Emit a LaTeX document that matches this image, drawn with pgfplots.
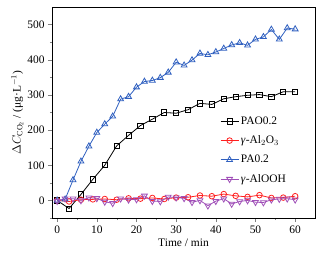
\documentclass[border=0pt]{standalone}
\usepackage{pgfplots}
\pgfplotsset{compat=1.18}
\usepackage{fontspec}
\setmainfont{Liberation Serif}
\definecolor{cblue}{HTML}{3060C0}
\definecolor{cred}{HTML}{FF2020}
\definecolor{cpurp}{HTML}{A050B8}
\begin{document}
\begin{tikzpicture}[x=1bp,y=1bp]
\begin{axis}[
  scale only axis, width=263bp, height=211bp,
  xmin=-1.3, xmax=65, ymin=-50, ymax=550,
  xtick={0,10,20,30,40,50,60}, minor xtick={5,15,25,35,45,55},
  ytick={0,100,200,300,400,500}, minor ytick={-50,50,150,250,350,450},
  tick align=outside, xtick pos=left, ytick pos=left,
  major tick length=4bp, minor tick length=2bp,
  /pgf/number format/assume math mode=true,
  tick label style={font=\fontsize{11.5}{13}\selectfont},
  label style={font=\fontsize{11.5}{13}\selectfont},
  xlabel={Time / min},
  ylabel={$\Delta C_{\mathrm{CO_2}}$ / (μg·L$^{-1}$)},
  xlabel style={yshift=1bp},
  ylabel style={yshift=-3bp},
  axis line style={line width=0.8bp},
  legend style={draw=none, fill=none, at={(rel axis cs:0.635,0.495)}, anchor=north west,
    font=\fontsize{11.5}{13}\selectfont, row sep=6bp, inner sep=1bp},
  legend cell align=left,
  legend image code/.code={\draw[mark repeat=2,mark phase=2,#1] plot coordinates {(0bp,0bp) (9bp,0bp) (18bp,0bp)};},
  every axis plot/.append style={line width=0.8bp},
  mark options={solid, fill=white, line width=0.8bp},
]
\addplot[black, mark=square, mark size=2.6bp] coordinates {
(0,0) (3,-23) (6,17) (9,60) (12,100) (15,155) (18,185) (21,213) (24,231) (27,250)
(30,248) (33,258) (36,276) (39,273) (42,289) (45,295) (48,299) (51,301) (54,295) (57,309) (60,309)};
\addlegendentry{PAO0.2}
\addplot[cred, mark=o, mark size=2.8bp] coordinates {
(0,0) (3,-3) (6,2) (9,3) (12,4) (15,2) (18,6) (21,5) (24,7) (27,4) (30,8) (33,9)
(36,14) (39,12) (42,18) (45,13) (48,10) (51,15) (54,7) (57,8) (60,12)};
\addlegendentry{\textit{γ}-Al$_2$O$_3$}
\addplot[cblue, mark=triangle, mark size=3.4bp] coordinates {
(0,0) (2,3) (4,58) (6,111) (8,154) (10,193) (12,217) (14,239) (16,288) (18,295)
(20,322) (22,338) (24,341) (26,349) (28,364) (30,393) (32,384) (34,399) (36,418)
(38,414) (40,422) (42,432) (44,442) (46,448) (48,441) (50,458) (52,465) (54,486)
(56,458) (58,490) (60,487)};
\addlegendentry{PA0.2}
\addplot[cpurp, mark=triangle, mark size=3.4bp, mark options={rotate=180}] coordinates {
(0,-2) (2,5) (4,5) (6,0) (8,8) (10,6) (12,-4) (14,-8) (16,5) (18,2) (20,3) (22,13)
(24,-2) (26,-3) (28,10) (30,8) (32,6) (34,-5) (36,0) (38,-15) (40,-2) (42,5) (44,-10)
(46,-3) (48,0) (50,-5) (52,-6) (54,2) (56,4) (58,5) (60,2)};
\addlegendentry{\textit{γ}-AlOOH}
\end{axis}
\pgfresetboundingbox
\path (-52bp,-38bp) rectangle (273bp,218bp);
\end{tikzpicture}
\end{document}
